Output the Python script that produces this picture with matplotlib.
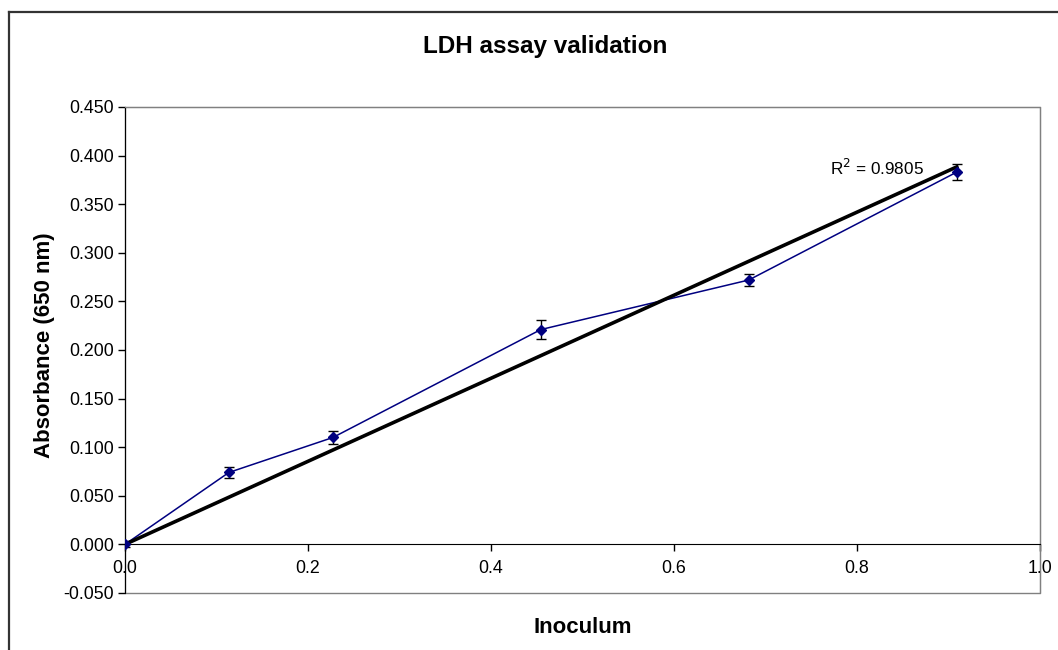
import numpy as np
import matplotlib.pyplot as plt
from matplotlib.patches import Rectangle
from matplotlib.lines import Line2D

plt.rcParams['font.family'] = ['Liberation Sans', 'DejaVu Sans']

# inoculum fraction vs absorbance, mean and error
inoculum = [0.0, 0.1136, 0.2273, 0.4545, 0.6818, 0.9091]
absorbance = [0.000, 0.074, 0.110, 0.221, 0.272, 0.383]
abs_err = [0.003, 0.006, 0.007, 0.010, 0.006, 0.008]
r2_label = 'R$^2$ = 0.9805'

x = np.array(inoculum)
y = np.array(absorbance)

# linear trend forced through the origin
slope = np.sum(x * y) / np.sum(x * x)
x_fit = np.array([0.0, x.max()])
y_fit = slope * x_fit

fig = plt.figure(figsize=(10.58, 6.5), dpi=100)
ax = fig.add_axes([0.1181, 0.0877, 0.8648, 0.7477])

ax.plot(x, y, color='#000080', lw=1.1, zorder=3)
ax.errorbar(x, y, yerr=abs_err, fmt='none', ecolor='black', elinewidth=1,
            capsize=3.5, capthick=1, zorder=4)
ax.plot(x, y, linestyle='none', marker='D', ms=5.5, color='#000080', zorder=5)
ax.plot(x_fit, y_fit, color='black', lw=2.6, zorder=4)

ax.text(0.771, 0.387, r2_label, fontsize=12.3, va='center', ha='left')

ax.set_xlim(0, 1.0)
ax.set_ylim(-0.05, 0.45)
ax.set_xticks(np.arange(0, 1.01, 0.2))
ax.set_xticklabels([f'{v:.1f}' for v in np.arange(0, 1.01, 0.2)])
ax.set_yticks(np.arange(-0.05, 0.451, 0.05))
ax.set_yticklabels([f'{v:.3f}' for v in np.arange(-0.05, 0.451, 0.05)])
ax.tick_params(axis='both', labelsize=12.8, direction='out', length=5, width=1, color='black')
ax.tick_params(axis='x', pad=6)
ax.tick_params(axis='y', pad=3)

# x axis sits on y = 0, plot area has a grey border
ax.spines['bottom'].set_position(('data', 0))
ax.spines['bottom'].set_color('black')
ax.spines['left'].set_color('black')
for s in ['top', 'right']:
    ax.spines[s].set_color('#808080')
ax.add_patch(Rectangle((0, 0), 1, 1, transform=ax.transAxes, fill=False,
                       ec='#808080', lw=1, clip_on=False, zorder=0))

fig.text(0.515, 0.928, 'LDH assay validation', fontsize=17.5, fontweight='bold',
         ha='center', va='center')
fig.text(0.042, 0.469, 'Absorbance (650 nm)', fontsize=16, fontweight='bold',
         rotation=90, ha='center', va='center')
fig.text(0.551, 0.035, 'Inoculum', fontsize=16, fontweight='bold',
         ha='center', va='center')

# chart frame
fig.add_artist(Line2D([0.0085, 0.0085], [0.0, 0.9815], transform=fig.transFigure,
                      color='#333333', lw=1.6))
fig.add_artist(Line2D([0.0085, 1.0], [0.9815, 0.9815], transform=fig.transFigure,
                      color='#333333', lw=1.6))

fig.savefig('out.png', dpi=100, facecolor='white')
